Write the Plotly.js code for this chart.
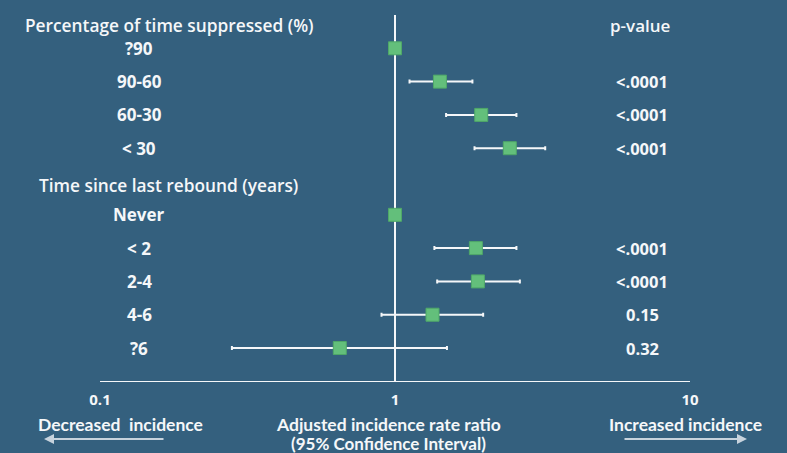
<!DOCTYPE html>
<html>
<head>
<meta charset="utf-8">
<script src="https://cdn.plot.ly/plotly-3.0.1.min.js"></script>
<style>html,body{margin:0;padding:0;background:#34607e;}</style>
</head>
<body>
<div id="chart" style="width:787px;height:453px;"></div>
<script>
// ---- data ----
const groupTitles = ['Percentage of time suppressed (%)', 'Time since last rebound (years)'];
const group1Labels = ['?90', '90-60', '60-30', '&lt; 30'];
const group1IRR    = [1, 1.42, 1.96, 2.45];
const group1Lower  = [1, 1.12, 1.49, 1.86];
const group1Upper  = [1, 1.83, 2.58, 3.23];
const group1P      = ['', '&lt;.0001', '&lt;.0001', '&lt;.0001'];

const group2Labels = ['Never', '&lt; 2', '2-4', '4-6', '?6'];
const group2IRR    = [1, 1.88, 1.91, 1.34, 0.65];
const group2Lower  = [1, 1.36, 1.39, 0.90, 0.28];
const group2Upper  = [1, 2.58, 2.65, 1.99, 1.50];
const group2P      = ['', '&lt;.0001', '&lt;.0001', '0.15', '0.32'];

const tickVals   = [0.1, 1, 10];
const tickLabels = ['0.1', '1', '10'];
const pHeader = 'p-value';
const axisTitle = ['Adjusted incidence rate ratio', '(95% Confidence Interval)'];
const leftNote = 'Decreased&nbsp; incidence';
const rightNote = 'Increased incidence';

// ---- build rows ----
const labels = group1Labels.concat(group2Labels);
const irr = group1IRR.concat(group2IRR);
const lower = group1Lower.concat(group2Lower);
const upper = group1Upper.concat(group2Upper);
const pvals = group1P.concat(group2P);
const rowY = group1Labels.map((_, i) => i + 1).concat(group2Labels.map((_, i) => i + group1Labels.length + 2));
const headerY = [0.33, group1Labels.length + 1.13];

const WHITE = '#f5f7f9';
const FONT = '"Open Sans", Lato, sans-serif';
const FONT2 = 'Lato, "Open Sans", sans-serif';
const BG = '#34607e';

const trace = {
  type: 'scatter',
  mode: 'markers',
  x: irr,
  y: rowY,
  marker: {symbol: 'square', size: 13, color: '#63bf7b', line: {color: '#4fa868', width: 1}},
  error_x: {
    type: 'data', symmetric: false,
    array: irr.map((v, i) => upper[i] - v),
    arrayminus: irr.map((v, i) => v - lower[i]),
    color: WHITE, thickness: 2, width: 2
  },
  hoverinfo: 'skip',
  showlegend: false
};

const lx = (px) => (px - 100) / 590;   // helper: pixel -> paper x
const ly = (py) => (381 - py) / 366;   // helper: pixel -> paper y

const annotations = [];
labels.forEach((t, i) => {
  annotations.push({xref: 'paper', yref: 'y', x: lx(139), y: rowY[i], text: t, showarrow: false,
    xanchor: 'center', yanchor: 'middle', font: {family: FONT, size: 17, color: WHITE, weight: 700}});
  if (pvals[i]) annotations.push({xref: 'paper', yref: 'y', x: lx(642), y: rowY[i], text: pvals[i], showarrow: false,
    xanchor: 'center', yanchor: 'middle', font: {family: FONT, size: 16.5, color: WHITE, weight: 700}});
});
annotations.push({xref: 'paper', yref: 'y', x: lx(23), y: headerY[0], text: groupTitles[0], showarrow: false,
  xanchor: 'left', yanchor: 'middle', font: {family: FONT, size: 17.3, color: WHITE, weight: 600}});
annotations.push({xref: 'paper', yref: 'y', x: lx(37), y: headerY[1], text: groupTitles[1], showarrow: false,
  xanchor: 'left', yanchor: 'middle', font: {family: FONT, size: 17.3, color: WHITE, weight: 600}});
annotations.push({xref: 'paper', yref: 'y', x: lx(640), y: headerY[0], text: pHeader, showarrow: false,
  xanchor: 'center', yanchor: 'middle', font: {family: FONT, size: 17, color: WHITE, weight: 600}});
// bottom texts
annotations.push({xref: 'paper', yref: 'paper', x: lx(388), y: ly(425), text: axisTitle[0], showarrow: false,
  xanchor: 'center', yanchor: 'middle', font: {family: FONT2, size: 17.5, color: WHITE, weight: 700}});
annotations.push({xref: 'paper', yref: 'paper', x: lx(388), y: ly(443), text: axisTitle[1], showarrow: false,
  xanchor: 'center', yanchor: 'middle', font: {family: FONT2, size: 17, color: WHITE, weight: 700}});
annotations.push({xref: 'paper', yref: 'paper', x: lx(120), y: ly(425), text: leftNote, showarrow: false,
  xanchor: 'center', yanchor: 'middle', font: {family: FONT2, size: 17.5, color: WHITE, weight: 700}});
annotations.push({xref: 'paper', yref: 'paper', x: lx(685), y: ly(425), text: rightNote, showarrow: false,
  xanchor: 'center', yanchor: 'middle', font: {family: FONT2, size: 17.5, color: WHITE, weight: 700}});
// arrows
annotations.push({xref: 'paper', yref: 'paper', x: lx(44), y: ly(439), ax: 121, ay: 0, text: '', showarrow: true,
  arrowhead: 2, arrowsize: 1, arrowwidth: 2, arrowcolor: '#c7d3dd'});
annotations.push({xref: 'paper', yref: 'paper', x: lx(747), y: ly(439), ax: -124, ay: 0, text: '', showarrow: true,
  arrowhead: 2, arrowsize: 1, arrowwidth: 2, arrowcolor: '#c7d3dd'});

const layout = {
  width: 787, height: 453,
  margin: {l: 100, r: 97, t: 15, b: 72},
  paper_bgcolor: BG, plot_bgcolor: BG,
  showlegend: false,
  xaxis: {
    type: 'log', range: [-1, 1],
    showgrid: false, zeroline: false,
    showline: true, linecolor: WHITE, linewidth: 1,
    ticks: 'inside', ticklen: 7, tickwidth: 1, tickcolor: WHITE,
    tickvals: tickVals, ticktext: tickLabels,
    ticklabelstandoff: 5,
    tickfont: {family: FONT, size: 15, color: WHITE, weight: 700},
    fixedrange: true
  },
  yaxis: {visible: false, range: [10.99, 0], fixedrange: true},
  shapes: [{type: 'line', xref: 'x', yref: 'paper', x0: 1, x1: 1, y0: 0, y1: 1,
    line: {color: WHITE, width: 2}, layer: 'below'}],
  annotations: annotations
};

Plotly.newPlot('chart', [trace], layout, {displayModeBar: false, staticPlot: true});
</script>
</body>
</html>
